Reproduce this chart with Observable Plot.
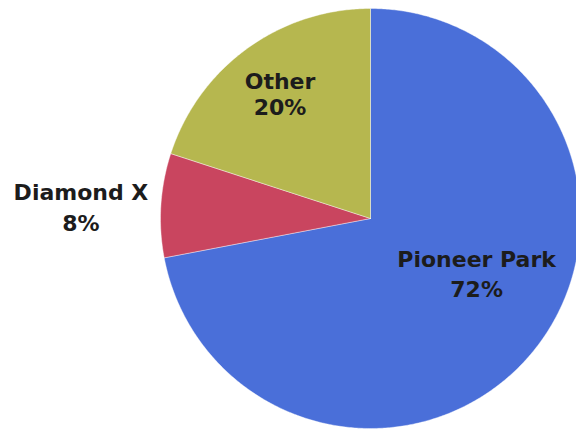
<!DOCTYPE html>
<html>
<head>
<meta charset="utf-8">
<script src="https://cdn.jsdelivr.net/npm/d3@7"></script>
<script src="https://cdn.jsdelivr.net/npm/@observablehq/plot@0.6"></script>
<style>
  html, body { margin: 0; padding: 0; background: #ffffff; overflow: hidden; }
  #chart { width: 576px; height: 430px; }
</style>
</head>
<body>
<div id="chart"></div>
<script>
// ---- data ----
const categories = ["Pioneer Park", "Diamond X", "Other"];
const shares = [72, 8, 20];
const percentLabels = ["72%", "8%", "20%"];
const sliceColors = ["#4a6fd9", "#c9455f", "#b6b74f"];

// ---- label placement config (polar: radius factor, angle shift in degrees) ----
const labelRadius = {"Pioneer Park": 0.567, "Diamond X": 1.38, "Other": 0.733};
const labelTurn = {"Pioneer Park": -12.6, "Diamond X": -1.1, "Other": 0};

const rows = categories.map((c, i) => ({category: c, share: shares[i], pct: percentLabels[i]}));
const arcs = d3.pie().sort(null).value(d => d.share).startAngle(0).endAngle(2 * Math.PI)(rows);

// polygon outline of each slice, in unit-circle data coordinates (y up)
const outline = [];
for (const a of arcs) {
  const cat = a.data.category;
  outline.push({category: cat, x: 0, y: 0});
  const steps = Math.max(2, Math.ceil((a.endAngle - a.startAngle) / (Math.PI / 360)));
  for (let k = 0; k <= steps; k++) {
    const t = a.startAngle + (a.endAngle - a.startAngle) * k / steps;
    outline.push({category: cat, x: Math.sin(t), y: Math.cos(t)});
  }
  outline.push({category: cat, x: 0, y: 0});
}

const labels = arcs.map(a => {
  const cat = a.data.category;
  const t = (a.startAngle + a.endAngle) / 2 + labelTurn[cat] * Math.PI / 180;
  const r = labelRadius[cat];
  return {category: cat, text: cat + "\n" + a.data.pct, x: r * Math.sin(t), y: r * Math.cos(t)};
});

const cx = 370, cy = 218, R = 210;
const textStyle = {
  x: "x", y: "y", text: "text",
  fontFamily: "DejaVu Sans", fontWeight: "bold", fontSize: 22,
  fill: "#1c1c1c", textAnchor: "middle", lineAnchor: "middle"
};

const chart = Plot.plot({
  width: 576,
  height: 430,
  margin: 0,
  style: {background: "#ffffff", overflow: "hidden"},
  x: {domain: [-1, 1], range: [cx - R, cx + R], axis: null},
  y: {domain: [-1, 1], range: [cy + R, cy - R], axis: null},
  color: {domain: categories, range: sliceColors},
  marks: [
    Plot.line(outline, {
      x: "x", y: "y", z: "category", fill: "category",
      stroke: "#ffffff", strokeWidth: 0.8, strokeOpacity: 0.5, curve: "linear"
    }),
    Plot.text(labels.filter(d => d.category !== "Other"), {...textStyle, lineHeight: 1.38}),
    Plot.text(labels.filter(d => d.category === "Other"), {...textStyle, lineHeight: 1.15})
  ]
});
document.getElementById("chart").appendChild(chart);
</script>
</body>
</html>
